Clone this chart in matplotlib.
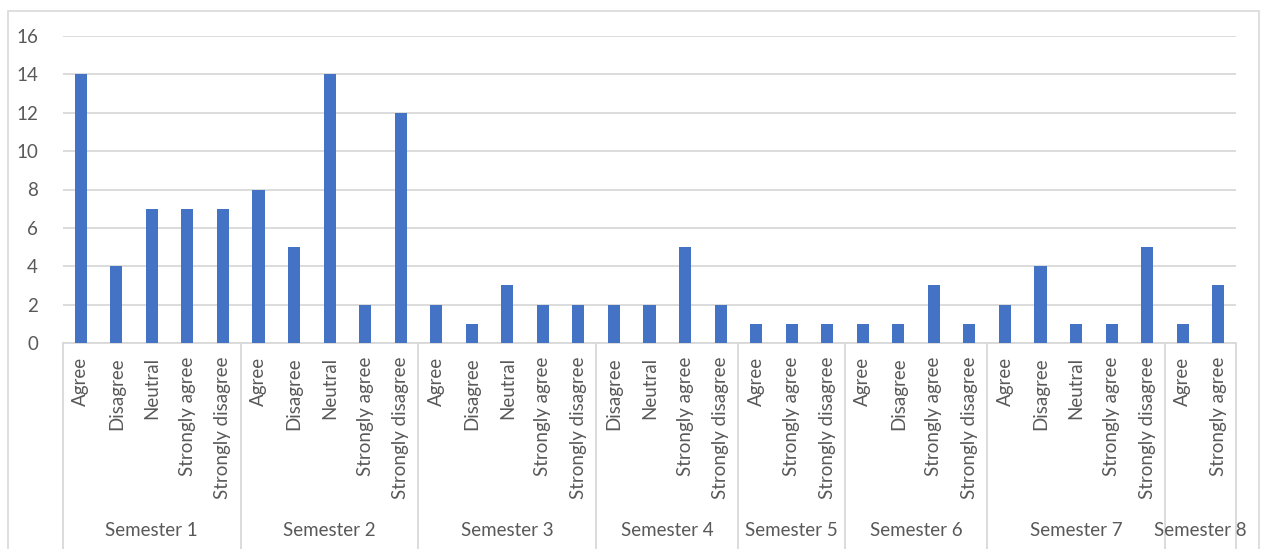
import numpy as np
import matplotlib.pyplot as plt
from matplotlib.patches import Rectangle

# data per semester
semesters = ["Semester 1", "Semester 2", "Semester 3", "Semester 4",
             "Semester 5", "Semester 6", "Semester 7", "Semester 8"]
responses = [
    ["Agree", "Disagree", "Neutral", "Strongly agree", "Strongly disagree"],
    ["Agree", "Disagree", "Neutral", "Strongly agree", "Strongly disagree"],
    ["Agree", "Disagree", "Neutral", "Strongly agree", "Strongly disagree"],
    ["Disagree", "Neutral", "Strongly agree", "Strongly disagree"],
    ["Agree", "Strongly agree", "Strongly disagree"],
    ["Agree", "Disagree", "Strongly agree", "Strongly disagree"],
    ["Agree", "Disagree", "Neutral", "Strongly agree", "Strongly disagree"],
    ["Agree", "Strongly agree"],
]
counts = [
    [14, 4, 7, 7, 7],
    [8, 5, 14, 2, 12],
    [2, 1, 3, 2, 2],
    [2, 2, 5, 2],
    [1, 1, 1],
    [1, 1, 3, 1],
    [2, 4, 1, 1, 5],
    [1, 3],
]
y_ticks = [0, 2, 4, 6, 8, 10, 12, 14, 16]

BAR = "#4472C4"
TXT = "#595959"
GRID = "#D9D9D9"

plt.rcParams['font.family'] = ['Lato', 'DejaVu Sans']

labels = [r for grp in responses for r in grp]
values = [v for grp in counts for v in grp]
x = np.arange(len(values))

W, H = 1261, 549
fig = plt.figure(figsize=(W / 100, H / 100), dpi=100)
ax = fig.add_axes([63 / W, (H - 343) / H, (1236 - 63) / W, (343 - 36) / H])

ax.bar(x, values, width=0.34, color=BAR, zorder=3)
ax.set_xlim(-0.5, len(values) - 0.5)
ax.set_ylim(0, 16)
ax.set_yticks(y_ticks)
ax.yaxis.grid(True, color=GRID, lw=1.3)
ax.set_axisbelow(True)
for s in ["top", "right", "left"]:
    ax.spines[s].set_visible(False)
ax.spines["bottom"].set_color(GRID)
ax.spines["bottom"].set_linewidth(1.3)
ax.tick_params(axis="y", length=0, pad=18, labelsize=13.5, labelcolor=TXT)
ax.set_xticks(x)
ax.set_xticklabels(labels, rotation=90, va="top", ha="center")
ax.tick_params(axis="x", length=0, pad=10, labelsize=13.5, labelcolor=TXT)

# group separators and semester names
bottom = -(H - 343) / (343 - 36) - 0.05
edges = np.concatenate([[0], np.cumsum([len(g) for g in counts])]) - 0.5
ax.vlines(edges, bottom, 0, transform=ax.get_xaxis_transform(),
          color=GRID, lw=1.3, clip_on=False)
for i, name in enumerate(semesters):
    mid = (edges[i] + edges[i + 1]) / 2
    ax.text(mid, (343 - 530) / (343 - 36), name, transform=ax.get_xaxis_transform(),
            ha="center", va="center", fontsize=13.5, color=TXT)

# chart border
fig.patches.append(Rectangle((8 / W, -0.01), (1259 - 8) / W, (H - 11) / H + 0.01,
                             transform=fig.transFigure, fill=False,
                             edgecolor=GRID, lw=1.2))

fig.savefig("out.png", dpi=100)
